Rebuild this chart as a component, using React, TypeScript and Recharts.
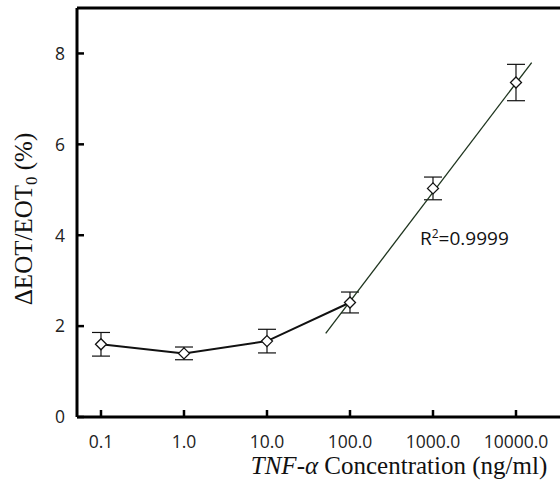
import React from 'react';
import {
  ComposedChart,
  Line,
  Scatter,
  XAxis,
  YAxis,
  ErrorBar,
  ReferenceLine,
  Label,
} from 'recharts';

// ---- data ----
const concentrations = [0.1, 1, 10, 100, 1000, 10000];
const tickLabels = ['0.1', '1.0', '10.0', '100.0', '1000.0', '10000.0'];
const responses = [1.6, 1.4, 1.67, 2.52, 5.03, 7.36];
const errors = [0.26, 0.14, 0.26, 0.23, 0.25, 0.4];
const fitX = [51, 15450];
const fitY = [1.84, 7.8];
const yTicks = [0, 2, 4, 6, 8];
const rSquaredText = '=0.9999';

const points = concentrations.map((x, i) => ({ x, y: responses[i], err: errors[i] }));
const lowPoints = points.slice(0, 4);
const fitData = fitX.map((x, i) => ({ x, y: fitY[i] }));

const X_DOMAIN: [number, number] = [0.0514, 33900];
const Y_DOMAIN: [number, number] = [0, 9];

const TICK_FONT = "'Open Sans', sans-serif";
const TICK_SIZE = 17.5;

const XTick = (props: any) => {
  const { x, y, payload } = props;
  const idx = concentrations.indexOf(payload.value);
  const label = idx >= 0 ? tickLabels[idx] : String(payload.value);
  return (
    <text
      x={x}
      y={y}
      dy="0.72em"
      textAnchor="middle"
      style={{ fontFamily: TICK_FONT, fontSize: TICK_SIZE }}
      fill="#222"
    >
      {label}
    </text>
  );
};

const YTick = (props: any) => {
  const { x, y, payload } = props;
  return (
    <text
      x={x}
      y={y}
      dy="0.36em"
      textAnchor="end"
      style={{ fontFamily: TICK_FONT, fontSize: TICK_SIZE }}
      fill="#222"
    >
      {payload.value}
    </text>
  );
};

const Diamond = (props: any) => {
  const { cx, cy } = props;
  if (cx == null || cy == null) return null;
  const r = 5.5;
  return (
    <path
      d={`M${cx},${cy - r} L${cx + r},${cy} L${cx},${cy + r} L${cx - r},${cy} Z`}
      fill="#fff"
      stroke="#111"
      strokeWidth={1.3}
    />
  );
};

const XTitle = () => (
  <text
    x={399}
    y={474}
    textAnchor="middle"
    style={{ fontFamily: "'Liberation Serif', 'Times New Roman', serif", fontSize: 25 }}
    fill="#111"
  >
    <tspan fontStyle="italic">TNF-α</tspan>
    <tspan> Concentration (ng/ml)</tspan>
  </text>
);

const YTitle = () => (
  <text
    x={32}
    y={219}
    transform="rotate(-90, 32, 219)"
    textAnchor="middle"
    style={{ fontFamily: "'Liberation Serif', 'Times New Roman', serif", fontSize: 25 }}
    fill="#111"
  >
    <tspan>ΔEOT/EOT</tspan>
    <tspan style={{ fontSize: 17 }} dy={5}>0</tspan>
    <tspan dy={-5}> (%)</tspan>
  </text>
);

export default function App() {
  return (
    <div
      style={{
        position: 'absolute',
        left: 0,
        top: 0,
        width: 560,
        height: 492,
        background: '#fff',
        overflow: 'hidden',
      }}
    >
      <ComposedChart
        width={560}
        height={492}
        margin={{ top: 8, right: 0, bottom: 0, left: 0 }}
      >
        <XAxis
          dataKey="x"
          type="number"
          scale="log"
          domain={X_DOMAIN}
          allowDataOverflow
          ticks={concentrations}
          interval={0}
          height={75}
          axisLine={{ stroke: '#000', strokeWidth: 3 }}
          tickLine={{ stroke: '#000', strokeWidth: 2.5 }}
          tickSize={-7}
          tickMargin={25}
          tick={<XTick />}
        >
          <Label content={XTitle} />
        </XAxis>
        <YAxis
          type="number"
          domain={Y_DOMAIN}
          allowDataOverflow
          ticks={yTicks}
          interval={0}
          width={77}
          axisLine={{ stroke: '#000', strokeWidth: 3 }}
          tickLine={{ stroke: '#000', strokeWidth: 2.5 }}
          tickSize={-7}
          tickMargin={19}
          tick={<YTick />}
        >
          <Label content={YTitle} />
        </YAxis>
        <ReferenceLine y={Y_DOMAIN[1]} stroke="#000" strokeWidth={3} />
        <Line
          data={lowPoints}
          dataKey="y"
          type="linear"
          stroke="#111"
          strokeWidth={2}
          dot={false}
          activeDot={false}
          isAnimationActive={false}
        />
        <Scatter
          data={points}
          dataKey="y"
          shape={Diamond}
          isAnimationActive={false}
        >
          <ErrorBar dataKey="err" direction="y" width={9} stroke="#111" strokeWidth={1.2} />
        </Scatter>
        <Line
          data={fitData}
          dataKey="y"
          type="linear"
          stroke="#1d331d"
          strokeWidth={1.3}
          dot={false}
          activeDot={false}
          isAnimationActive={false}
        />
      </ComposedChart>
      <div
        style={{
          position: 'absolute',
          left: 420,
          top: 224,
          fontFamily: "'Open Sans', sans-serif",
          fontSize: 19,
          lineHeight: '19px',
          color: '#111',
          whiteSpace: 'nowrap',
        }}
      >
        R<span style={{ fontSize: 12, verticalAlign: '0.55em' }}>2</span>
        {rSquaredText}
      </div>
    </div>
  );
}
